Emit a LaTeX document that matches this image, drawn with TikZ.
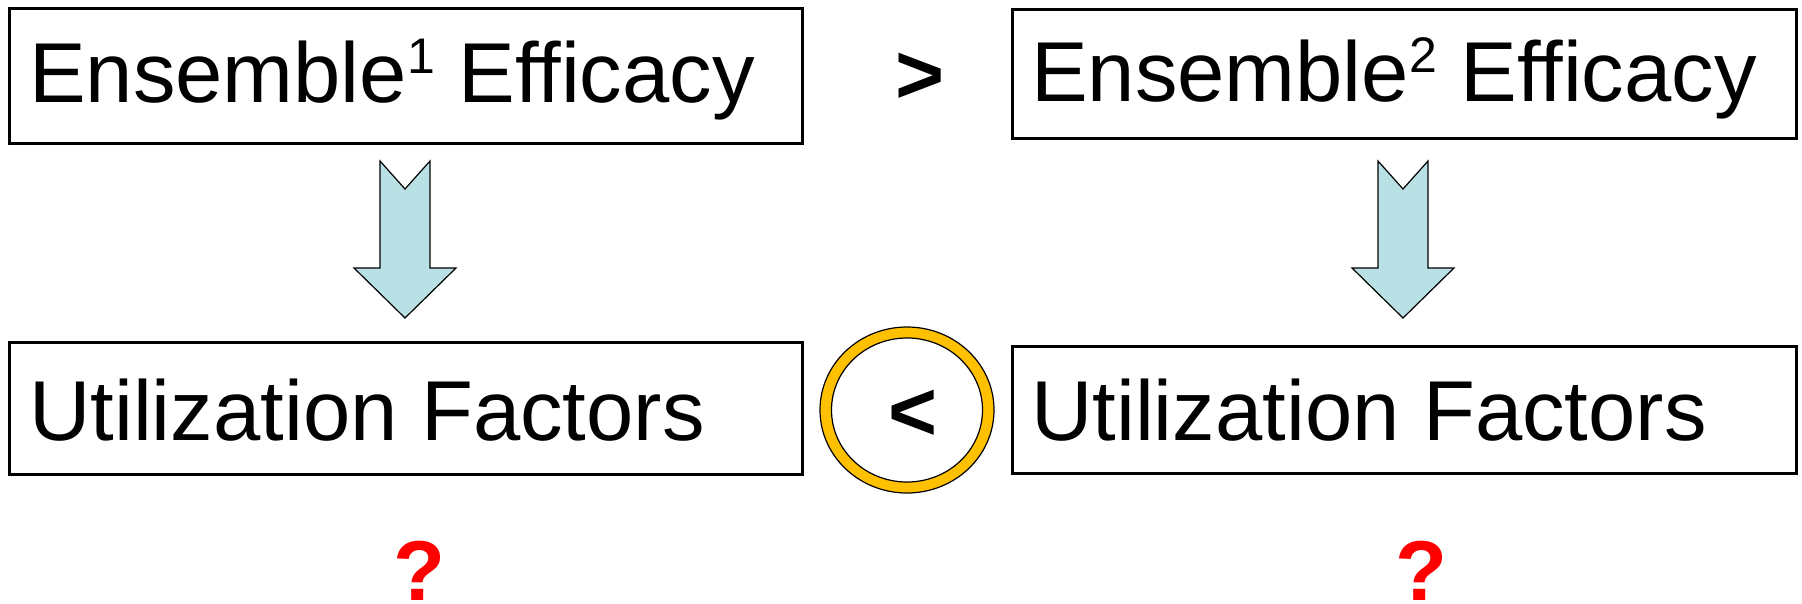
\documentclass[tikz,border=0pt]{standalone}
\usepackage{fontspec}
\setmainfont[Ligatures={TeX,NoCommon}]{Liberation Sans}
\usetikzlibrary{shapes.geometric}
\definecolor{arrowblue}{RGB}{185,224,228}
\definecolor{ringgold}{RGB}{255,192,0}
\definecolor{qred}{RGB}{255,0,0}
\newcommand{\supnum}[1]{\raisebox{29pt}{\fontsize{50}{50}\selectfont #1}}
\tikzset{
  box/.style={draw, line width=3pt, inner sep=0pt, rectangle},
  boxtext/.style={anchor=base west, inner sep=0pt, font=\fontsize{85}{85}\selectfont},
  relsign/.style={anchor=base, inner sep=0pt, font=\fontsize{84}{84}\selectfont\bfseries},
  qmark/.style={anchor=base, inner sep=0pt, text=qred, font=\fontsize{85}{85}\selectfont\bfseries},
  arrowstyle/.style={draw, line width=1.2pt, fill=arrowblue, line join=miter},
  downarrow/.pic={\draw[arrowstyle] (-25,0) -- (0,28) -- (25,0) -- (25,107) -- (51,107) -- (0,157) -- (-51,107) -- (-25,107) -- cycle;}
}
\begin{document}
\begin{tikzpicture}[x=1pt,y=-1pt]
\useasboundingbox (0,0) rectangle (1802,603);
% boxes
\node[box, minimum width=793pt, minimum height=135pt] (e1) at (405.5,75.5) {};
\node[box, minimum width=784pt, minimum height=129pt] (e2) at (1404,73.5) {};
\node[box, minimum width=793pt, minimum height=132pt] (u1) at (405.5,408) {};
\node[box, minimum width=784pt, minimum height=127pt] (u2) at (1404,409.5) {};
% texts
\node[boxtext] (t1) at (29,102) {Ensemble\supnum{1} Efficacy};
\node[boxtext] (t2) at (1031,101) {Ensemble\supnum{2} Efficacy};
\node[boxtext] (t3) at (29,440) {Utilization Factors};
\node[boxtext] (t4) at (1031,440) {Utilization Factors};
% arrows
\pic (a1) at (405,161) {downarrow};
\pic (a2) at (1403,161) {downarrow};
% greater sign
\node[relsign] (gt) at (920,103) {>};
% ring
\node[draw, ellipse, line width=1.2pt, fill=ringgold, minimum width=174pt, minimum height=166pt, inner sep=0pt] (ring) at (907,410) {};
\node[draw, ellipse, line width=1.2pt, fill=white, minimum width=151pt, minimum height=144pt, inner sep=0pt] (inner) at (907,410) {};
\node[relsign] (lt) at (913,440) {<};
% question marks
\node[qmark] (q1) at (419,600) {?};
\node[qmark] (q2) at (1421,600) {?};
\end{tikzpicture}
\end{document}
